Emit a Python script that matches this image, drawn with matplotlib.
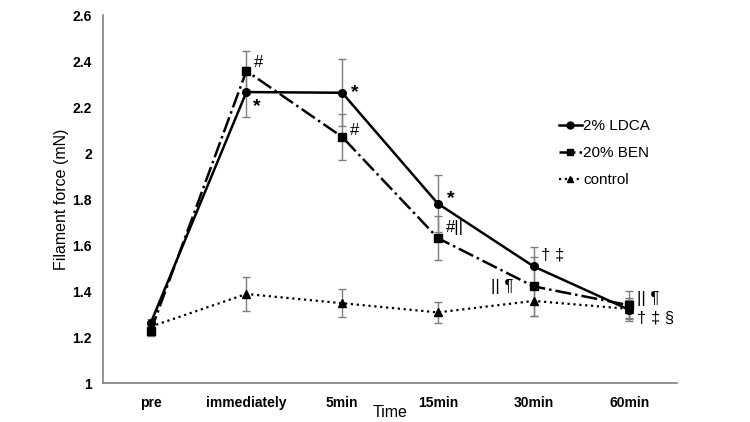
import numpy as np
import matplotlib.pyplot as plt
from matplotlib.lines import Line2D

plt.rcParams['font.family'] = ['Liberation Sans', 'DejaVu Sans']

times = ["pre", "immediately", "5min", "15min", "30min", "60min"]

ldca = [1.26, 2.265, 2.262, 1.78, 1.507, 1.318]
ldca_err = [0.02, 0.11, 0.145, 0.125, 0.085, 0.05]
ben = [1.225, 2.357, 2.07, 1.63, 1.42, 1.338]
ben_err = [0.02, 0.085, 0.10, 0.095, 0.13, 0.06]
ctrl = [1.245, 1.387, 1.347, 1.307, 1.357, 1.322]
ctrl_err = [0.02, 0.072, 0.062, 0.045, 0.065, 0.04]

# significance marks: (time index, value, text, dx, dy)
marks = [
    (1, 2.357, "#", 0.08, 0.035),
    (1, 2.265, "*", 0.07, -0.065),
    (2, 2.262, "*", 0.09, 0.0),
    (2, 2.07, "#", 0.08, 0.03),
    (3, 1.78, "*", 0.09, 0.02),
    (3, 1.63, "#||", 0.08, 0.045),
    (4, 1.507, "\u2020 \u2021", 0.08, 0.05),
    (4, 1.42, "|| \u00b6", -0.45, 0.0),
    (5, 1.338, "|| \u00b6", 0.08, 0.03),
    (5, 1.318, "\u2020 \u2021 \u00a7", 0.08, -0.035),
]

x = np.arange(len(times))

fig = plt.figure(figsize=(7.5, 4.22), dpi=100)
ax = fig.add_axes([0.137, 0.0924, 0.766, 0.872])

ec = "#7f7f7f"
ax.errorbar(x, ctrl, yerr=ctrl_err, color="black", ls=":", lw=1.6, marker="^",
            ms=5.5, ecolor=ec, elinewidth=1, capsize=3)
ax.errorbar(x, ben, yerr=ben_err, color="black", ls="-.", lw=1.8, marker="s",
            ms=5.5, ecolor=ec, elinewidth=1, capsize=3)
ax.errorbar(x, ldca, yerr=ldca_err, color="black", ls="-", lw=1.8, marker="o",
            ms=5.5, ecolor=ec, elinewidth=1, capsize=3)

for i, v, t, dx, dy in marks:
    if t == "*":
        ax.text(x[i] + dx, v + dy, t, fontsize=14, fontweight="bold",
                ha="left", va="center")
    else:
        ax.text(x[i] + dx, v + dy, t, fontsize=12, ha="left", va="center")

ax.set_xlim(-0.5, 5.5)
ax.set_ylim(1, 2.6)
ax.set_yticks(np.arange(1, 2.61, 0.2))
ax.set_yticklabels(["1", "1.2", "1.4", "1.6", "1.8", "2", "2.2", "2.4", "2.6"])
ax.set_xticks(x)
ax.set_xticklabels(times)
for lab in ax.get_xticklabels() + ax.get_yticklabels():
    lab.set_fontweight("bold")
    lab.set_fontsize(10)
ax.tick_params(length=0)
ax.tick_params(axis="x", pad=9)
ax.tick_params(axis="y", pad=8)

for s in ["top", "right"]:
    ax.spines[s].set_visible(False)
for s in ["left", "bottom"]:
    ax.spines[s].set_color("#808080")
    ax.spines[s].set_linewidth(1.2)

ax.set_ylabel("Filament force (mN)", fontsize=11.5, labelpad=2)
ax.set_xlabel("Time", fontsize=11.5, labelpad=-3)

handles = [
    Line2D([], [], color="black", ls="-", lw=1.8, marker="o", ms=5),
    Line2D([], [], color="black", ls="-.", lw=1.8, marker="s", ms=5),
    Line2D([], [], color="black", ls=":", lw=1.6, marker="^", ms=5),
]
ax.legend(handles, ["2% LDCA", "20% BEN", "control"], loc="upper left",
          bbox_to_anchor=(0.77, 0.755), frameon=False, fontsize=11,
          handlelength=1.5, handletextpad=0.1, labelspacing=0.86)

fig.savefig("out.png", dpi=100)
